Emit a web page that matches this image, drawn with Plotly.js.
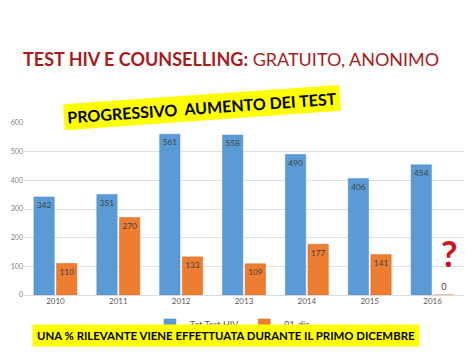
<!DOCTYPE html>
<html><head><meta charset="utf-8">
<script src="https://cdn.plot.ly/plotly-3.0.1.min.js"></script>
<style>html,body{margin:0;padding:0;background:#fff}#chart{width:474px;height:355px}</style>
</head><body><div id="chart"></div>
<script>
const years = ['2010','2011','2012','2013','2014','2015','2016'];
const totTest = [342, 351, 561, 558, 490, 406, 454];
const dic01 = [110, 270, 133, 109, 177, 141, 0];
const seriesNames = ['Tot Test HIV', '01-dic'];
const yTicks = [0, 100, 200, 300, 400, 500, 600];

const FONT = 'Lato, "Open Sans", sans-serif';
const traces = [
  {type:'bar', x:years, y:totTest, name:seriesNames[0],
   marker:{color:'#5B9BD5', line:{color:'#4A8CCB', width:0.5}},
   text:totTest.map(String), textposition:'inside', insidetextanchor:'end',
   textfont:{color:'#404040', size:9, family:FONT}, textangle:0, cliponaxis:false},
  {type:'bar', x:years, y:dic01, name:seriesNames[1],
   marker:{color:'#ED7D31', line:{color:'#D86A20', width:0.5}},
   text:dic01.map(String), textposition:dic01.map(v=>v>0?'inside':'outside'), insidetextanchor:'end',
   textfont:{color:'#404040', size:9, family:FONT}, textangle:0, cliponaxis:false}
];
const layout = {
  width:474, height:355,
  margin:{l:24, r:10, t:123, b:60},
  paper_bgcolor:'#fff', plot_bgcolor:'#fff',
  barmode:'group', bargap:0.28, bargroupgap:0.1,
  font:{family:FONT, color:'#595959'},
  showlegend:true,
  legend:{orientation:'h', x:0.475, xanchor:'center', y:-0.174, yanchor:'middle',
          font:{size:9, color:'#595959'}, itemwidth:10, tracegroupgap:0},
  xaxis:{type:'category', tickfont:{size:8, color:'#595959'}, showline:false, ticks:'', showgrid:false},
  yaxis:{range:[0,600], tickvals:yTicks, tickfont:{size:7, color:'#7f7f7f'},
         gridcolor:'#E0E0E0', gridwidth:1, zeroline:true, zerolinecolor:'#D9D9D9', ticks:'', ticklen:0},
  annotations:[
    {xref:'paper', yref:'paper', x:0.47, y:1.375, xanchor:'center', yanchor:'middle', showarrow:false,
     text:'<b>TEST HIV E COUNSELLING:</b> GRATUITO, ANONIMO', font:{size:18, color:'#A81C1C', family:'Lato, sans-serif'}},
    {xref:'paper', yref:'paper', x:0.405, y:1.093, xanchor:'center', yanchor:'middle', showarrow:false, textangle:-4,
     text:'<b>PROGRESSIVO  AUMENTO DEI TEST</b>', font:{size:16, color:'#000', family:'Lato, sans-serif'},
     bgcolor:'#FFFF00', borderpad:3},
    {xref:'paper', yref:'paper', x:0.459, y:-0.238, xanchor:'center', yanchor:'middle', showarrow:false,
     text:'<b>UNA % RILEVANTE VIENE EFFETTUATA DURANTE IL PRIMO DICEMBRE</b>', font:{size:11.4, color:'#000', family:'Lato, sans-serif'},
     bgcolor:'#FFFF00', borderpad:4},
    {xref:'paper', yref:'paper', x:0.968, y:0.244, xanchor:'center', yanchor:'middle', showarrow:false,
     text:'<b>?</b>', font:{size:36, color:'#D0101A', family:'Lato, sans-serif'}}
  ]
};
Plotly.newPlot('chart', traces, layout, {displayModeBar:false, staticPlot:true});
</script></body></html>
